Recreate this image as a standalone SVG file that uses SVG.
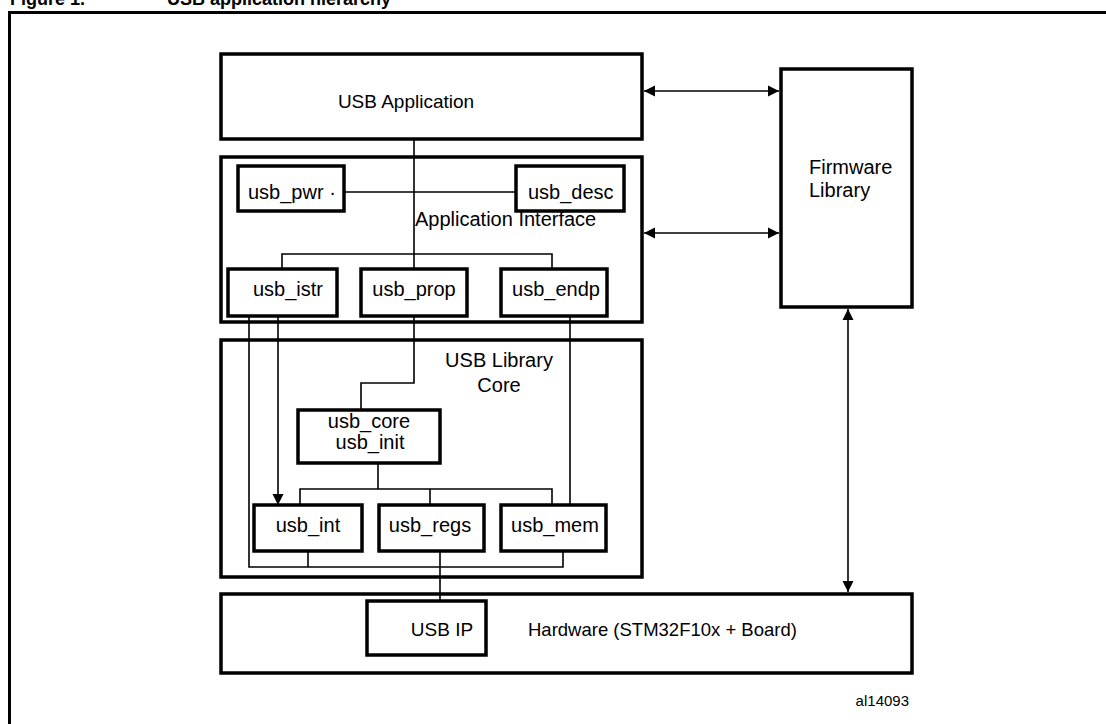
<svg xmlns="http://www.w3.org/2000/svg" width="1106" height="724" viewBox="0 0 1106 724">
<style>
.box{fill:#fff;stroke:#000;stroke-width:3.5}
.frame{fill:none;stroke:#000;stroke-width:3}
.ln{fill:none;stroke:#000;stroke-width:1.6}
.t{font-family:"Liberation Sans",Arial,sans-serif;font-size:20px;fill:#000}
.h{font-family:"Liberation Sans",Arial,sans-serif;font-size:18px;font-weight:bold;fill:#000}
.c{text-anchor:middle}
</style>
<defs>
<marker id="ah" markerUnits="userSpaceOnUse" markerWidth="12" markerHeight="12" refX="11" refY="6" orient="auto-start-reverse">
<path d="M0,0.5 L11,6 L0,11.5 z" fill="#000"/>
</marker>
</defs>
<rect width="1106" height="724" fill="#fff"/>
<text class="h" x="10" y="5">Figure 1.</text>
<text class="h" x="167" y="5">USB application hierarchy</text>
<rect class="frame" x="9.5" y="12.5" width="1200" height="800"/>

<g id="usb_application"><rect class="box" x="221" y="54" width="421" height="85"/><text class="t c" x="406" y="108" style="font-size:19px">USB Application</text></g>
<g id="application_interface"><rect class="box" x="221" y="157" width="421" height="165"/><text class="t" x="415" y="226">Application Interface</text></g>
<g id="usb_pwr"><rect class="box" x="238" y="166" width="106" height="45"/><text class="t" x="248" y="199">usb_pwr ·</text></g>
<g id="usb_desc"><rect class="box" x="516" y="166" width="108" height="45"/><text class="t" x="528" y="199">usb_desc</text></g>
<g id="usb_istr"><rect class="box" x="228" y="269" width="109" height="47"/><text class="t c" x="288" y="296">usb_istr</text></g>
<g id="usb_prop"><rect class="box" x="361" y="269" width="106" height="47"/><text class="t c" x="414" y="296">usb_prop</text></g>
<g id="usb_endp"><rect class="box" x="501" y="269" width="106" height="47"/><text class="t c" x="556" y="296">usb_endp</text></g>
<g id="usb_library_core"><rect class="box" x="221" y="340" width="421" height="237"/><text class="t c" x="499" y="367">USB Library</text><text class="t c" x="499" y="392">Core</text></g>
<g id="usb_core"><rect class="box" x="298" y="410" width="142" height="53"/><text class="t c" x="369" y="428">usb_core</text><text class="t c" x="370" y="449">usb_init</text></g>
<g id="usb_int"><rect class="box" x="254" y="505" width="108" height="46"/><text class="t c" x="308" y="532">usb_int</text></g>
<g id="usb_regs"><rect class="box" x="379" y="505" width="105" height="46"/><text class="t c" x="430" y="532">usb_regs</text></g>
<g id="usb_mem"><rect class="box" x="501" y="505" width="105" height="46"/><text class="t c" x="555" y="532">usb_mem</text></g>
<g id="firmware_library"><rect class="box" x="781" y="69" width="131" height="238"/><text class="t" x="809" y="174">Firmware</text><text class="t" x="809" y="197">Library</text></g>
<g id="hardware"><rect class="box" x="221" y="594" width="691" height="79"/><text class="t" x="528" y="636" style="font-size:18.5px">Hardware (STM32F10x + Board)</text></g>
<g id="usb_ip"><rect class="box" x="367" y="601" width="119" height="54"/><text class="t c" x="442" y="636" style="font-size:19px">USB IP</text></g>
<text class="t" x="909" y="706" text-anchor="end" style="font-size:15px">al14093</text>

<g id="connectors">
<path class="ln" d="M414,140 V269"/>
<path class="ln" d="M414,316 V383 H361 V410"/>
<path class="ln" d="M344,192 H516"/>
<path class="ln" d="M282,269 V254 H552 V269"/>
<path class="ln" d="M278,316 V505" marker-end="url(#ah)"/>
<path class="ln" d="M249,316 V567 H563 V551"/>
<path class="ln" d="M308,551 V567"/>
<path class="ln" d="M570,316 V505"/>
<path class="ln" d="M378,463 V489"/>
<path class="ln" d="M300,505 V489 H552 V505"/>
<path class="ln" d="M430,489 V505"/>
<path class="ln" d="M440,551 V601"/>
<path class="ln" d="M644,91 H779" marker-start="url(#ah)" marker-end="url(#ah)"/>
<path class="ln" d="M644,233 H779" marker-start="url(#ah)" marker-end="url(#ah)"/>
<path class="ln" d="M848,309 V592" marker-start="url(#ah)" marker-end="url(#ah)"/>
</g>
</svg>
